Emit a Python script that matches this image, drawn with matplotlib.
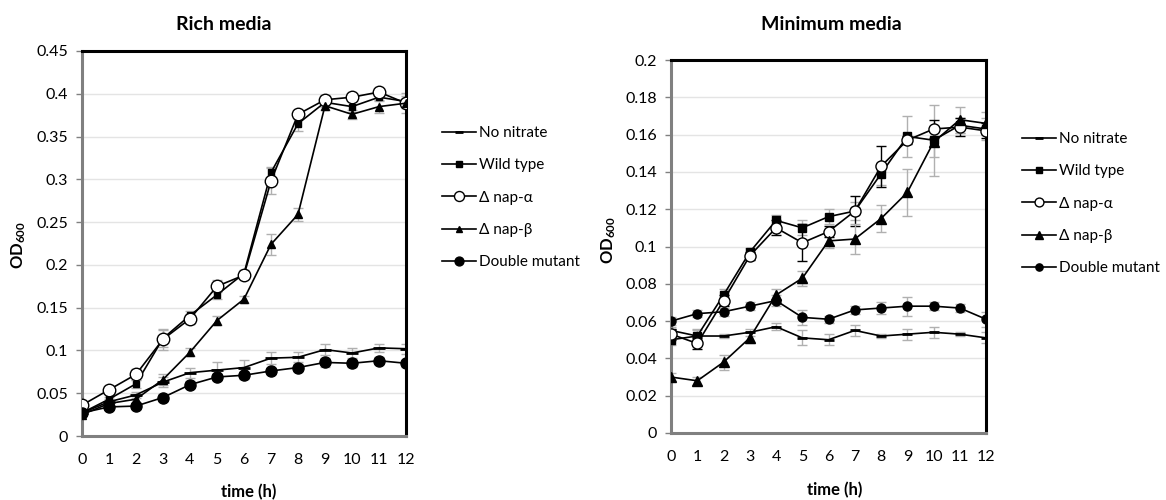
import matplotlib
matplotlib.use("Agg")
import matplotlib.pyplot as plt

plt.rcParams['font.family'] = ['Lato', 'DejaVu Sans']
plt.rcParams['mathtext.fontset'] = 'custom'
plt.rcParams['mathtext.rm'] = 'Lato:bold'
plt.rcParams['mathtext.default'] = 'rm'

hours = list(range(13))
labels = ["No nitrate", "Wild type", "\u0394 nap-\u03b1", "\u0394 nap-\u03b2", "Double mutant"]

# rich media
rich_no_nitrate = [0.027, 0.040, 0.048, 0.063, 0.074, 0.077, 0.080, 0.091, 0.092, 0.101, 0.097, 0.103, 0.102]
rich_wild_type = [0.027, 0.043, 0.061, 0.114, 0.141, 0.165, 0.190, 0.308, 0.365, 0.390, 0.385, 0.396, 0.391]
rich_nap_a = [0.036, 0.054, 0.072, 0.113, 0.137, 0.175, 0.188, 0.298, 0.376, 0.393, 0.396, 0.402, 0.389]
rich_nap_b = [0.025, 0.038, 0.043, 0.066, 0.098, 0.135, 0.160, 0.224, 0.259, 0.386, 0.376, 0.385, 0.389]
rich_double = [0.027, 0.034, 0.035, 0.045, 0.060, 0.069, 0.071, 0.076, 0.080, 0.086, 0.085, 0.088, 0.085]

rich_err_no_nitrate = [0.002, 0.003, 0.004, 0.006, 0.006, 0.009, 0.009, 0.007, 0.006, 0.006, 0.006, 0.005, 0.006]
rich_err_wild_type = [0.002, 0.003, 0.005, 0.010, 0.005, 0.005, 0.004, 0.006, 0.008, 0.005, 0.006, 0.005, 0.006]
rich_err_nap_a = [0.003, 0.004, 0.006, 0.012, 0.006, 0.007, 0.005, 0.015, 0.005, 0.005, 0.005, 0.004, 0.012]
rich_err_nap_b = [0.002, 0.003, 0.004, 0.006, 0.005, 0.005, 0.004, 0.012, 0.008, 0.005, 0.005, 0.008, 0.006]
rich_err_double = [0.002, 0.003, 0.003, 0.004, 0.004, 0.004, 0.004, 0.004, 0.004, 0.005, 0.004, 0.004, 0.004]

# minimum media
min_no_nitrate = [0.055, 0.052, 0.052, 0.054, 0.057, 0.051, 0.050, 0.055, 0.052, 0.053, 0.054, 0.053, 0.051]
min_wild_type = [0.050, 0.052, 0.074, 0.097, 0.114, 0.110, 0.116, 0.119, 0.139, 0.159, 0.157, 0.165, 0.163]
min_nap_a = [0.053, 0.048, 0.071, 0.095, 0.110, 0.102, 0.108, 0.119, 0.143, 0.157, 0.163, 0.164, 0.162]
min_nap_b = [0.030, 0.028, 0.038, 0.051, 0.074, 0.083, 0.103, 0.104, 0.115, 0.129, 0.156, 0.168, 0.166]
min_double = [0.060, 0.064, 0.065, 0.068, 0.071, 0.062, 0.061, 0.066, 0.067, 0.068, 0.068, 0.067, 0.061]

min_err_no_nitrate = [0.002, 0.003, 0.001, 0.002, 0.002, 0.004, 0.003, 0.003, 0.001, 0.003, 0.003, 0.001, 0.003]
min_err_wild_type = [0.003, 0.004, 0.003, 0.002, 0.003, 0.004, 0.004, 0.005, 0.006, 0.011, 0.019, 0.004, 0.006]
min_err_nap_a = [0.003, 0.003, 0.003, 0.002, 0.004, 0.010, 0.003, 0.008, 0.011, 0.002, 0.005, 0.005, 0.004]
min_err_nap_b = [0.002, 0.002, 0.004, 0.003, 0.003, 0.004, 0.004, 0.008, 0.007, 0.0125, 0.008, 0.007, 0.006]
min_err_double = [0.002, 0.002, 0.002, 0.002, 0.003, 0.004, 0.002, 0.002, 0.003, 0.005, 0.002, 0.002, 0.004]


def draw(ax, series, errors, err_colors, styles, ymax, ystep):
    for vals, err, ecol in zip(series, errors, err_colors):
        ax.errorbar(hours, vals, yerr=err, fmt='none', ecolor=ecol,
                    elinewidth=1, capsize=3.5, capthick=1, zorder=2)
    lines = []
    for vals, lab, st in zip(series, labels, styles):
        ln, = ax.plot(hours, vals, color='black', lw=1.2, label=lab, zorder=3, **st)
        lines.append(ln)
    ax.set_xlim(0, 12)
    ax.set_ylim(0, ymax)
    n = int(round(ymax / ystep))
    ticks = [round(i * ystep, 3) for i in range(n + 1)]
    ax.set_yticks(ticks)
    ax.set_yticklabels(['0'] + ['%g' % t for t in ticks[1:]])
    ax.set_xticks(hours)
    ax.grid(axis='y', color='#e4e4e4', lw=1)
    ax.set_axisbelow(True)
    for s in ['left', 'bottom']:
        ax.spines[s].set_color('#808080')
        ax.spines[s].set_linewidth(2.2)
    for s in ['top', 'right']:
        ax.spines[s].set_color('black')
        ax.spines[s].set_linewidth(2.2)
    ax.tick_params(axis='x', length=0, pad=12, labelsize=11.5)
    ax.tick_params(axis='y', length=4, width=1, color='#808080', pad=6, labelsize=11.5)
    return lines


fig = plt.figure(figsize=(11.66, 5), dpi=100)
ax1 = fig.add_axes([0.0703, 0.128, 0.2779, 0.770])
ax2 = fig.add_axes([0.5755, 0.134, 0.2702, 0.746])

rich_styles = [
    dict(marker='_', ms=8, mew=2),
    dict(marker='s', ms=5),
    dict(marker='o', ms=9, mfc='white', mew=1),
    dict(marker='^', ms=6),
    dict(marker='o', ms=8),
]
min_styles = [
    dict(marker='_', ms=7, mew=2),
    dict(marker='s', ms=6),
    dict(marker='o', ms=8, mfc='white', mew=1),
    dict(marker='^', ms=6.5),
    dict(marker='o', ms=6.5),
]

h1 = draw(ax1,
          [rich_no_nitrate, rich_wild_type, rich_nap_a, rich_nap_b, rich_double],
          [rich_err_no_nitrate, rich_err_wild_type, rich_err_nap_a, rich_err_nap_b, rich_err_double],
          ['#b0b0b0'] * 5, rich_styles, 0.45, 0.05)
h2 = draw(ax2,
          [min_no_nitrate, min_wild_type, min_nap_a, min_nap_b, min_double],
          [min_err_no_nitrate, min_err_wild_type, min_err_nap_a, min_err_nap_b, min_err_double],
          ['#b0b0b0', '#b0b0b0', 'black', '#b0b0b0', '#b0b0b0'], min_styles, 0.2, 0.02)

leg_kw = dict(frameon=False, fontsize=11, handlelength=2.2, handletextpad=0.2,
              labelspacing=1.2, borderpad=0, borderaxespad=0, loc='upper left',
              markerscale=0.8)
fig.legend(handles=h1, bbox_to_anchor=(0.379, 0.748), **leg_kw)
fig.legend(handles=h2, bbox_to_anchor=(0.8765, 0.736), **leg_kw)

fig.text(0.192, 0.95, "Rich media", ha='center', va='center', fontsize=14, fontweight='bold')
fig.text(0.713, 0.95, "Minimum media", ha='center', va='center', fontsize=14, fontweight='bold')
fig.text(0.2135, 0.015, "time (h)", ha='center', va='center', fontsize=12, fontweight='bold')
fig.text(0.716, 0.02, "time (h)", ha='center', va='center', fontsize=12, fontweight='bold')
fig.text(0.016, 0.51, r"$\mathrm{OD}_{600}$", ha='center', va='center', rotation=90, fontsize=12)
fig.text(0.522, 0.52, r"$\mathrm{OD}_{600}$", ha='center', va='center', rotation=90, fontsize=12)

plt.savefig("out.png", dpi=100)
